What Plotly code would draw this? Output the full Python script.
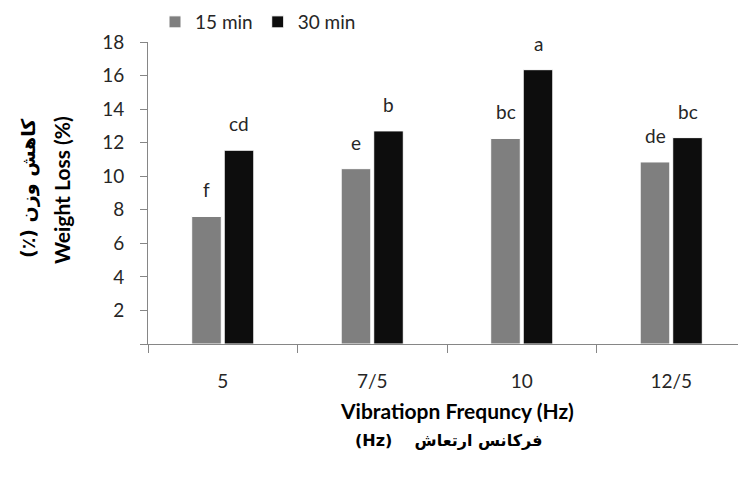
import plotly.graph_objects as go

categories = ["5", "7/5", "10", "12/5"]
series_names = ["15 min", "30 min"]
values_15 = [7.6, 10.45, 12.25, 10.85]
values_30 = [11.55, 12.7, 16.35, 12.3]
letters_15 = ["f", "e", "bc", "de"]
letters_30 = ["cd", "b", "a", "bc"]
ytick_vals = [0, 2, 4, 6, 8, 10, 12, 14, 16, 18]
ytick_text = ["", "2", "4", "6", "8", "10", "12", "14", "16", "18"]

FONT = "Lato, 'DejaVu Sans', sans-serif"
AR_FONT = "'DejaVu Sans', Lato, sans-serif"
TXT = "#262626"

fig = go.Figure()
colors = ["#7f7f7f", "#0d0d0d"]
for name, vals, col in zip(series_names, [values_15, values_30], colors):
    fig.add_trace(go.Bar(
        name=name, x=categories, y=vals,
        marker=dict(color=col, line=dict(color="white", width=1)),
    ))

# significance letters above bars (x given as category index)
bar_shift = 16.25
for vals, labs, sh in [(values_15, letters_15, -bar_shift), (values_30, letters_30, bar_shift)]:
    for i, (v, t) in enumerate(zip(vals, labs)):
        fig.add_annotation(x=i, y=v, text=t, showarrow=False, xanchor="center",
                           yanchor="bottom", xshift=sh, yshift=13,
                           font=dict(family=FONT, size=19, color=TXT))

# axis titles (paper coords: plot area spans x 148..746, y 42..344 in window pixels)
fig.add_annotation(xref="paper", yref="paper", x=(457 - 148) / 598, y=(344 - 410) / 302,
                   text="<b>Vibratiopn Frequncy (Hz)</b>", showarrow=False,
                   xanchor="center", yanchor="middle",
                   font=dict(family=FONT, size=21, color="black"))
fig.add_annotation(xref="paper", yref="paper", x=(448 - 148) / 598, y=(344 - 440) / 302,
                   text="<b>\u202bفرکانس ارتعاش\u00a0\u00a0\u00a0 (Hz)\u202c</b>", showarrow=False,
                   xanchor="center", yanchor="middle",
                   font=dict(family=AR_FONT, size=16, color="black"))
fig.add_annotation(xref="paper", yref="paper", x=(62 - 148) / 598, y=(344 - 190) / 302,
                   text="<b>Weight Loss (%)</b>", showarrow=False, textangle=-90,
                   xanchor="center", yanchor="middle",
                   font=dict(family=FONT, size=21, color="black"))
fig.add_annotation(xref="paper", yref="paper", x=(28 - 148) / 598, y=(344 - 188) / 302,
                   text="<b>\u202bکاهش وزن (٪)\u202c</b>", showarrow=False, textangle=-90,
                   xanchor="center", yanchor="middle",
                   font=dict(family=AR_FONT, size=19, color="black"))

fig.update_layout(
    width=746, height=480,
    margin=dict(l=140, r=8, t=34, b=144, pad=0, autoexpand=False),
    paper_bgcolor="white", plot_bgcolor="white",
    barmode="group", bargap=0.565, bargroupgap=0.09,
    font=dict(family=FONT, size=19, color=TXT),
    legend=dict(orientation="h", x=(155 - 148) / 598, y=(344 - 3) / 302,
                xanchor="left", yanchor="top", font=dict(family=FONT, size=19, color=TXT),
                itemwidth=30, tracegroupgap=0, bgcolor="rgba(0,0,0,0)"),
    showlegend=True,
)
fig.update_xaxes(
    type="category", showline=True, linecolor="#868686", linewidth=1,
    ticks="outside", tickson="boundaries", ticklen=8, tickcolor="#868686",
    showgrid=False, zeroline=False, ticklabelstandoff=20,
    tickfont=dict(family=FONT, size=19, color=TXT),
)
fig.update_yaxes(
    range=[0, 18], tickvals=ytick_vals, ticktext=ytick_text,
    showline=True, linecolor="#868686", linewidth=1,
    ticks="outside", ticklen=7, tickcolor="#868686",
    showgrid=False, zeroline=False, ticklabelstandoff=12,
    tickfont=dict(family=FONT, size=19, color=TXT),
)

fig.write_html("out.html")
